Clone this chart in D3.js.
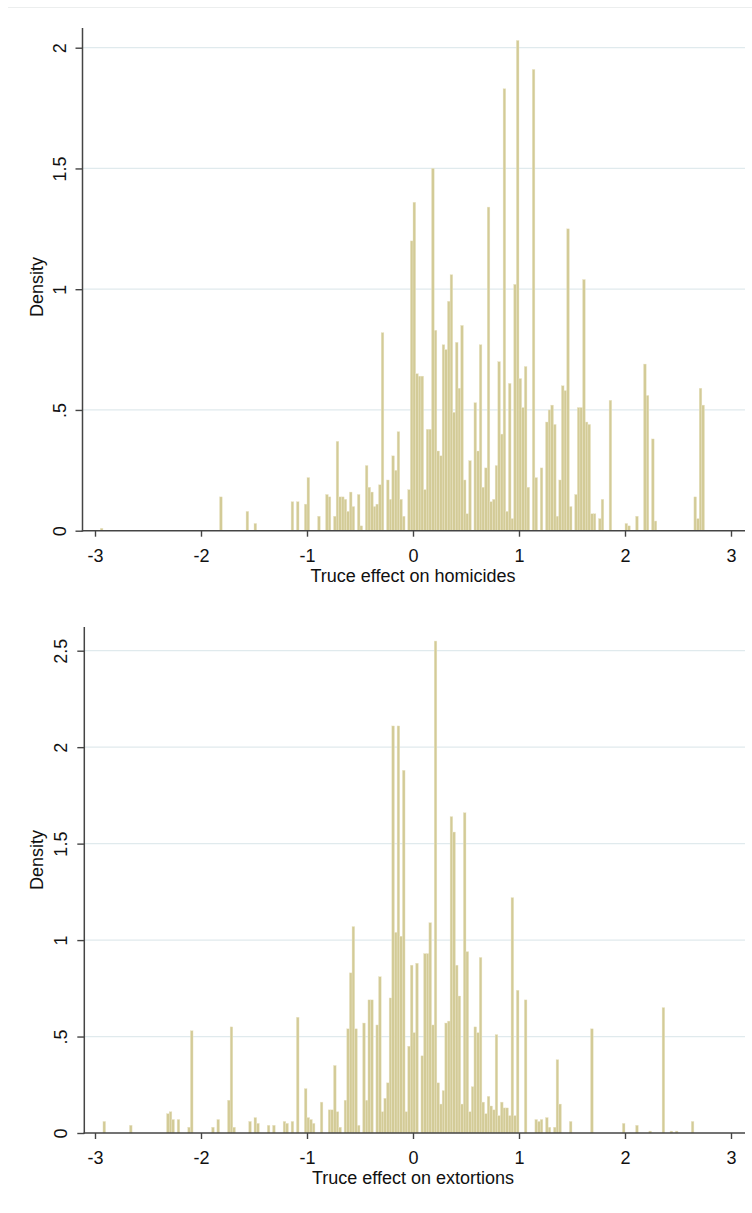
<!DOCTYPE html>
<html lang="en">
<head>
<meta charset="UTF-8">
<title>Truce effect histograms</title>
<script src="https://cdn.jsdelivr.net/npm/d3@7"></script>
<style>
  body { margin: 0; background: #fff; }
  svg { display: block; font-family: "Liberation Sans", Arial, sans-serif; }
</style>
</head>
<body>
<svg id="chart" width="752" height="1213"></svg>
<script>
// DATA
// Histogram bins: all bins share the same start and width
const binStart = -2.95;
const binWidth = 0.025;

const xTicks = [-3, -2, -1, 0, 1, 2, 3];
const homYTicks = [0, 0.5, 1, 1.5, 2];
const extYTicks = [0, 0.5, 1, 1.5, 2, 2.5];
const yTitle = "Density";
const homTitle = "Truce effect on homicides";
const extTitle = "Truce effect on extortions";

// Density per bin
const homDensity = [
  0.01,0,0,0,0,0,0,0,0,0,
  0,0,0,0,0,0,0,0,0,0,
  0,0,0,0,0,0,0,0,0,0,
  0,0,0,0,0,0,0,0,0,0,
  0,0,0,0,0,0.14,0,0,0,0,
  0,0,0,0,0,0.08,0,0,0.03,0,
  0,0,0,0,0,0,0,0,0,0,
  0,0,0.12,0,0.12,0,0,0.11,0.22,0,
  0,0,0.06,0,0,0.15,0.14,0,0.06,0.37,
  0.14,0.14,0.13,0.08,0.16,0.10,0,0.15,0.02,0,
  0.27,0.18,0.16,0.10,0.11,0.19,0.82,0,0.21,0.13,
  0.31,0.25,0.41,0.13,0.06,0,0.17,1.20,1.36,0.65,
  0.64,0.64,0.17,0.42,0.42,1.50,0.83,0.33,0.31,0.77,
  0.75,0.95,1.06,0.49,0.78,0.59,0.85,0.21,0.07,0.29,
  0,0.53,0.33,0.77,0.18,0.26,1.34,0.12,0.13,0.27,
  0.70,0.40,1.83,0.08,0.61,0.05,1.02,2.03,0.63,0.51,
  0.68,0.18,0,1.91,0.22,0,0.26,0,0.45,0.50,
  0.52,0.44,0.06,0.21,0.60,0.58,1.25,0.10,0,0.15,
  0.51,0.51,1.04,0.45,0.44,0.07,0.07,0,0.05,0.13,
  0,0,0.54,0,0,0,0,0,0.03,0.02,
  0,0,0.06,0,0,0.69,0.56,0,0.38,0.04,
  0,0,0,0,0,0,0,0,0,0,
  0,0,0,0,0.14,0.05,0.59,0.52,0,0
];

const extDensity = [
  0,0.06,0,0,0,0,0,0,0,0,
  0,0.04,0,0,0,0,0,0,0,0,
  0,0,0,0,0,0.10,0.11,0.07,0,0.07,
  0,0,0,0.03,0.53,0,0,0,0,0,
  0,0,0.03,0,0.07,0,0,0,0.17,0.55,
  0.03,0,0,0,0,0,0.06,0,0.08,0.05,
  0,0,0,0.04,0,0.04,0,0,0,0.06,
  0.05,0,0.06,0,0.60,0,0,0.23,0.08,0.07,
  0.05,0,0,0.16,0,0,0.12,0.12,0.35,0.11,
  0.03,0,0.17,0.54,0.83,1.07,0.54,0.04,0,0.57,
  0.17,0.69,0.69,0,0.56,0.81,0.11,0.18,0.26,0.70,
  2.11,1.04,2.11,1.02,1.88,0.11,0.45,0.87,0.52,0.88,
  0,0.40,0.93,0.93,1.09,0.56,2.55,0.26,0.15,0.22,
  0.57,0.58,1.64,1.56,0.87,0.71,0.15,1.66,0.94,0.11,
  0.24,0.55,0.52,0.91,0.16,0.10,0.19,0.14,0.12,0.51,
  0.09,0.16,0.13,0.13,0.09,1.22,0.09,0.74,0,0,
  0.69,0,0,0,0.07,0.06,0.07,0,0.08,0.03,
  0,0.03,0.38,0.15,0,0,0,0.06,0,0,
  0,0,0,0,0,0.54,0,0,0,0,
  0,0,0,0,0,0,0,0.05,0,0,
  0,0,0.04,0,0,0,0,0.01,0,0,
  0,0,0.65,0,0,0.01,0,0.01,0,0,
  0,0,0,0.06,0,0,0,0,0,0
];

// STYLE
const barFill = "#d3cb97";
const barLine = "#ece5c9";
const gridColor = "#e0eaed";
const axisColor = "#444";
const textColor = "#111";

const svg = d3.select("#chart");

// faint outer frame line at the top
svg.append("line")
    .attr("x1", 8).attr("x2", 752)
    .attr("y1", 7.5).attr("y2", 7.5)
    .attr("stroke", "#eceeee");

// Stata style labels: ".5" instead of "0.5"
const fmtY = d => d === 0 ? "0" : String(d).replace(/^0\./, ".");

function drawPanel(cfg) {
    const right = 745;
    const x = d3.scaleLinear().domain([-3, 3]).range([95, 731]);
    const y = d3.scaleLinear().domain([0, cfg.yMax]).range([cfg.base, cfg.tick2]);
    const g = svg.append("g");

    // gridlines
    g.append("g").selectAll("line")
        .data(cfg.yTicks.filter(t => t > 0))
        .join("line")
            .attr("x1", cfg.left).attr("x2", right)
            .attr("y1", d => y(d)).attr("y2", d => y(d))
            .attr("stroke", gridColor).attr("stroke-width", 1.3);

    // bars
    const bins = cfg.density
        .map((d, i) => ({x0: binStart + i * binWidth, d: d}))
        .filter(b => b.d > 0);
    g.append("g").selectAll("rect")
        .data(bins)
        .join("rect")
            .attr("x", b => x(b.x0))
            .attr("width", x(binWidth) - x(0))
            .attr("y", b => y(b.d))
            .attr("height", b => y(0) - y(b.d))
            .attr("fill", barFill)
            .attr("stroke", barLine)
            .attr("stroke-width", 0.4);

    // y axis
    const yAxis = g.append("g")
        .attr("transform", `translate(${cfg.left},0)`)
        .call(d3.axisLeft(y).tickValues(cfg.yTicks).tickFormat(fmtY).tickSize(7));
    yAxis.select(".domain").remove();
    yAxis.append("line")
        .attr("y1", cfg.top).attr("y2", cfg.base + 0.7)
        .attr("stroke", axisColor).attr("stroke-width", 1.5);
    yAxis.selectAll(".tick line").attr("stroke", axisColor).attr("stroke-width", 1.4);
    yAxis.selectAll(".tick text")
        .attr("x", 0).attr("y", -17).attr("dy", null)
        .attr("transform", "rotate(-90)")
        .attr("text-anchor", "middle")
        .attr("fill", textColor)
        .style("font-size", "18px");

    // x axis
    const xAxis = g.append("g")
        .attr("transform", `translate(0,${cfg.base})`)
        .call(d3.axisBottom(x).tickValues(xTicks).tickFormat(d => String(d)).tickSize(6));
    xAxis.select(".domain").remove();
    xAxis.append("line")
        .attr("x1", cfg.left - 0.7).attr("x2", right)
        .attr("stroke", axisColor).attr("stroke-width", 1.5);
    xAxis.selectAll(".tick line").attr("stroke", axisColor).attr("stroke-width", 1.4);
    xAxis.selectAll(".tick text")
        .attr("y", 31).attr("dy", null)
        .attr("fill", textColor)
        .style("font-size", "18px");

    // axis titles
    g.append("text")
        .attr("x", 413).attr("y", cfg.base + 51)
        .attr("text-anchor", "middle")
        .attr("fill", textColor)
        .style("font-size", "18px")
        .text(cfg.title);
    g.append("text")
        .attr("transform", `translate(43,${cfg.yTitleAt}) rotate(-90)`)
        .attr("text-anchor", "middle")
        .attr("fill", textColor)
        .style("font-size", "18px")
        .text(yTitle);
}

drawPanel({
    density: homDensity, yTicks: homYTicks, title: homTitle,
    yMax: 2, base: 530.7, tick2: 47.7, top: 28, left: 82.5, yTitleAt: 287
});
drawPanel({
    density: extDensity, yTicks: extYTicks, title: extTitle,
    yMax: 2.5, base: 1133, tick2: 650.7, top: 627, left: 84.3, yTitleAt: 860
});
</script>
</body>
</html>
